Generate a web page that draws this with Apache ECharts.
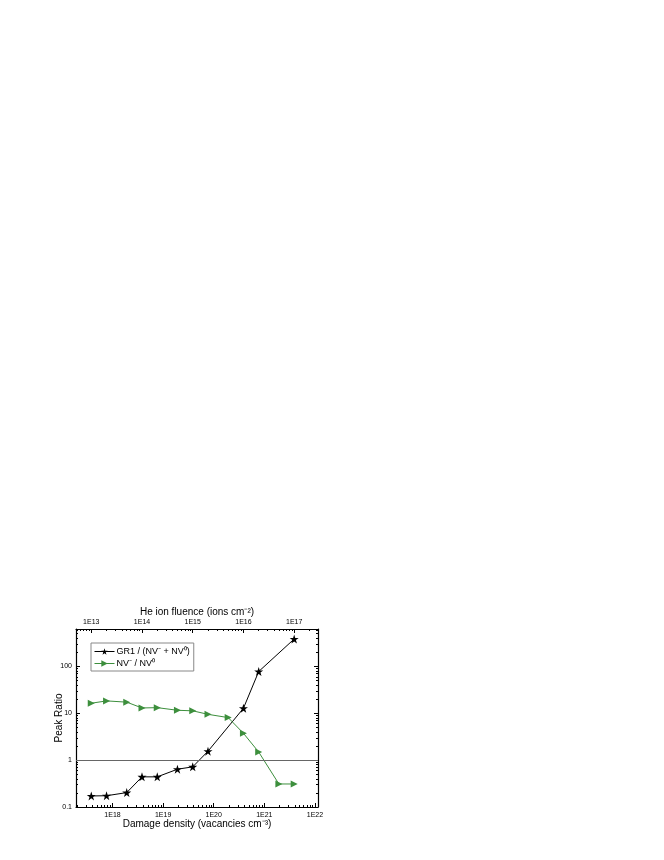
<!DOCTYPE html>
<html>
<head>
<meta charset="utf-8">
<script src="https://cdn.jsdelivr.net/npm/echarts@6/dist/echarts.min.js"></script>
<style>
  html, body { margin: 0; padding: 0; background: #fff; }
  #main { width: 664px; height: 860px; }
</style>
</head>
<body>
<div id="main"></div>
<script>
// fluence values (ions cm^-2), shared by both series
var fluenceGR1 = [1e13, 2e13, 5e13, 1e14, 2e14, 5e14, 1e15, 2e15, 1e16, 2e16, 1e17];
var ratioGR1 = [0.172, 0.174, 0.203, 0.44, 0.44, 0.64, 0.72, 1.55, 12.8, 78, 385];

var fluenceNV = [1e13, 2e13, 5e13, 1e14, 2e14, 5e14, 1e15, 2e15, 5e15, 1e16, 2e16, 5e16, 1e17];
var ratioNV = [16.4, 18.4, 17.3, 13.0, 13.2, 11.6, 11.3, 9.5, 8.1, 3.74, 1.49, 0.31, 0.31];

var damageTicks = ['1E18', '1E19', '1E20', '1E21', '1E22'];
var fluenceTicks = ['1E13', '1E14', '1E15', '1E16', '1E17'];
var ratioTicks = ['0.1', '1', '10', '100'];

var FONT = '"Liberation Sans", Arial, sans-serif';
var starPath = 'path://M50,0 L61.8,35.5 L99,35.5 L69,57.5 L80.4,93 L50,71 L19.6,93 L31,57.5 L1,35.5 L38.2,35.5 Z';

function pow10label(v) {
  var e = Math.round(Math.log10(v));
  if (Math.abs(Math.log10(v) - e) > 1e-6) return '';
  return '1E' + e;
}

function ratioLabel(v) {
  for (var i = 0; i < ratioTicks.length; i++) {
    if (Math.abs(parseFloat(ratioTicks[i]) - v) / v < 1e-6) return ratioTicks[i];
  }
  return '';
}

function pairs(xs, ys) {
  return xs.map(function (x, i) { return [x, ys[i]]; });
}

var tickStyle = { show: true, inside: true, length: 4, lineStyle: { color: '#000', width: 1 } };
var minorStyle = { show: true, splitNumber: 9, length: 2, lineStyle: { color: '#000', width: 1 } };
var lineStyle = { show: true, lineStyle: { color: '#000', width: 1.2 } };
var labelStyle = { fontFamily: FONT, fontSize: 7, color: '#000' };
var nameStyle = { fontFamily: FONT, fontSize: 10, color: '#000' };

var chart = echarts.init(document.getElementById('main'));
chart.setOption({
  backgroundColor: '#fff',
  animation: false,
  textStyle: { fontFamily: FONT },
  grid: { left: 76, top: 629, right: 346, bottom: 53 },
  legend: {
    left: 91, top: 643,
    orient: 'vertical',
    itemWidth: 20, itemHeight: 8, itemGap: 3,
    padding: [4, 4, 3, 3],
    borderColor: '#888', borderWidth: 1,
    lineStyle: { width: 1 },
    textStyle: { fontFamily: FONT, fontSize: 9, color: '#000', padding: [0, 0, 0, -3] },
    data: ['GR1 / (NV⁻ + NV⁰)', 'NV⁻ / NV⁰']
  },
  xAxis: [
    {
      type: 'log', position: 'bottom',
      min: 1.9e17, max: 1.15e22,
      name: 'Damage density (vacancies cm⁻³)',
      nameLocation: 'middle', nameGap: 12, nameMoveOverlap: false,
      nameTextStyle: nameStyle,
      axisLine: lineStyle, axisTick: tickStyle, minorTick: minorStyle,
      axisLabel: Object.assign({ margin: 5, formatter: pow10label }, labelStyle),
      splitLine: { show: false }
    },
    {
      type: 'log', position: 'top',
      min: 5e12, max: 2.95e17,
      name: 'He ion fluence (ions cm⁻²)',
      nameLocation: 'middle', nameGap: 12, nameMoveOverlap: false,
      nameTextStyle: nameStyle,
      axisLine: lineStyle, axisTick: tickStyle, minorTick: minorStyle,
      axisLabel: Object.assign({ margin: 3, formatter: pow10label }, labelStyle),
      splitLine: { show: false }
    }
  ],
  yAxis: [
    {
      type: 'log', position: 'left',
      min: 0.1, max: 630,
      name: 'Peak Ratio',
      nameLocation: 'middle', nameGap: 12, nameMoveOverlap: false,
      nameTextStyle: nameStyle,
      axisLine: lineStyle, axisTick: tickStyle, minorTick: minorStyle,
      axisLabel: Object.assign({ margin: 4, formatter: ratioLabel }, labelStyle),
      splitLine: { show: false }
    },
    {
      type: 'log', position: 'right',
      min: 0.1, max: 630,
      axisLine: lineStyle, axisTick: tickStyle, minorTick: minorStyle,
      axisLabel: { show: false },
      splitLine: { show: false }
    }
  ],
  series: [
    {
      name: 'GR1 / (NV⁻ + NV⁰)',
      type: 'line', xAxisIndex: 1, yAxisIndex: 0,
      data: pairs(fluenceGR1, ratioGR1),
      symbol: starPath, symbolSize: 9,
      itemStyle: { color: '#000' },
      lineStyle: { color: '#000', width: 1 },
      markLine: {
        silent: true, symbol: 'none', label: { show: false },
        lineStyle: { color: '#666', width: 1, type: 'solid' },
        data: [{ yAxis: 1 }]
      }
    },
    {
      name: 'NV⁻ / NV⁰',
      type: 'line', xAxisIndex: 1, yAxisIndex: 0,
      data: pairs(fluenceNV, ratioNV),
      symbol: 'triangle', symbolRotate: -90, symbolSize: 7,
      itemStyle: { color: '#3d8f3d' },
      lineStyle: { color: '#3d8f3d', width: 1 }
    }
  ]
});
</script>
</body>
</html>
